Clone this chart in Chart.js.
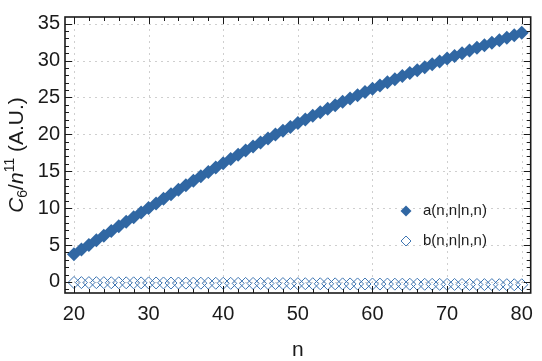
<!DOCTYPE html>
<html>
<head>
<meta charset="utf-8">
<script src="https://cdn.jsdelivr.net/npm/chart.js@4.4.0/dist/chart.umd.min.js"></script>
<style>
  html, body { margin: 0; padding: 0; background: #ffffff; }
  #wrap { width: 542px; height: 361px; }
</style>
</head>
<body>
<div id="wrap"><canvas id="c6Chart" width="542" height="361"></canvas></div>
<script>
// n values (x axis)
const nValues = [
  20, 21, 22, 23, 24, 25, 26, 27, 28, 29,
  30, 31, 32, 33, 34, 35, 36, 37, 38, 39,
  40, 41, 42, 43, 44, 45, 46, 47, 48, 49,
  50, 51, 52, 53, 54, 55, 56, 57, 58, 59,
  60, 61, 62, 63, 64, 65, 66, 67, 68, 69,
  70, 71, 72, 73, 74, 75, 76, 77, 78, 79,
  80
];

// a(n,n|n,n)
const aValues = [
  3.75, 4.38, 5.01, 5.64, 6.27, 6.90, 7.53, 8.16, 8.78, 9.40,
  10.02, 10.64, 11.26, 11.88, 12.49, 13.10, 13.71, 14.31, 14.91, 15.50,
  16.09, 16.67, 17.24, 17.80, 18.36, 18.91, 19.45, 19.98, 20.50, 21.01,
  21.52, 22.02, 22.51, 22.99, 23.47, 23.94, 24.40, 24.86, 25.31, 25.75,
  26.19, 26.62, 27.05, 27.47, 27.89, 28.30, 28.70, 29.10, 29.49, 29.88,
  30.26, 30.63, 31.00, 31.36, 31.72, 32.07, 32.42, 32.76, 33.10, 33.43,
  33.76
];

// b(n,n|n,n)
const bValues = [
  -0.08, -0.09, -0.09, -0.10, -0.10, -0.11, -0.11, -0.12, -0.12, -0.13,
  -0.13, -0.14, -0.14, -0.15, -0.15, -0.16, -0.16, -0.17, -0.17, -0.18,
  -0.18, -0.19, -0.19, -0.20, -0.20, -0.21, -0.21, -0.22, -0.22, -0.23,
  -0.23, -0.24, -0.24, -0.25, -0.25, -0.26, -0.26, -0.27, -0.27, -0.28,
  -0.28, -0.29, -0.29, -0.30, -0.30, -0.31, -0.31, -0.32, -0.32, -0.33,
  -0.33, -0.34, -0.34, -0.35, -0.35, -0.36, -0.36, -0.37, -0.37, -0.38,
  -0.38
];

const seriesLabels = ["a(n,n|n,n)", "b(n,n|n,n)"];
const xTicks = [20, 30, 40, 50, 60, 70, 80];
const yTicks = [0, 5, 10, 15, 20, 25, 30, 35];

const blue = "#3067a3";
const blueLight = "#3f76b3";
const fontFamily = "'Liberation Sans', Arial, sans-serif";

// Mathematica-like frame: dotted grid, black box, inward ticks on all sides
const framePlugin = {
  id: "frame",
  beforeDatasetsDraw(chart) {
    const { ctx, chartArea: a, scales: { x, y } } = chart;
    ctx.save();
    ctx.strokeStyle = "#cfcfcf";
    ctx.lineWidth = 1;
    ctx.setLineDash([2, 4]);
    xTicks.forEach((v) => {
      const px = Math.round(x.getPixelForValue(v)) + 0.5;
      ctx.beginPath();
      ctx.moveTo(px, a.top);
      ctx.lineTo(px, a.bottom);
      ctx.stroke();
    });
    yTicks.forEach((v) => {
      const py = Math.round(y.getPixelForValue(v)) + 0.5;
      ctx.beginPath();
      ctx.moveTo(a.left, py);
      ctx.lineTo(a.right, py);
      ctx.stroke();
    });
    ctx.restore();
  },
  afterDatasetsDraw(chart) {
    const { ctx, chartArea: a, scales: { x, y } } = chart;
    ctx.save();
    ctx.strokeStyle = "#1a1a1a";
    ctx.lineWidth = 1;
    // x ticks: major every 10, minor every 2
    for (let v = 20; v <= 80; v += 2) {
      const px = Math.round(x.getPixelForValue(v)) + 0.5;
      const len = v % 10 === 0 ? 7 : 4;
      ctx.beginPath();
      ctx.moveTo(px, a.bottom);
      ctx.lineTo(px, a.bottom - len);
      ctx.moveTo(px, a.top);
      ctx.lineTo(px, a.top + len);
      ctx.stroke();
    }
    // y ticks: major every 5, minor every 1
    for (let v = -1; v <= 35; v += 1) {
      const py = Math.round(y.getPixelForValue(v)) + 0.5;
      const len = v % 5 === 0 ? 7 : 4;
      ctx.beginPath();
      ctx.moveTo(a.left, py);
      ctx.lineTo(a.left + len, py);
      ctx.moveTo(a.right, py);
      ctx.lineTo(a.right - len, py);
      ctx.stroke();
    }
    ctx.lineWidth = 1.6;
    ctx.strokeRect(a.left, a.top, a.right - a.left, a.bottom - a.top);
    ctx.restore();
  },
  afterDraw(chart) {
    const { ctx, chartArea: a } = chart;
    ctx.save();
    ctx.fillStyle = "#1a1a1a";

    // y axis title: C_6/n^11 (A.U.)
    const segs = [
      { t: "C", f: "italic 21px " + fontFamily, dy: 0 },
      { t: "6", f: "14px " + fontFamily, dy: 4 },
      { t: "/", f: "21px " + fontFamily, dy: 0 },
      { t: "n", f: "italic 21px " + fontFamily, dy: 0 },
      { t: "11", f: "14px " + fontFamily, dy: -9 },
      { t: " (A.U.)", f: "21px " + fontFamily, dy: 0 },
    ];
    let total = 0;
    segs.forEach((s) => {
      ctx.font = s.f;
      s.w = ctx.measureText(s.t).width;
      total += s.w;
    });
    ctx.translate(15, (a.top + a.bottom) / 2);
    ctx.rotate(-Math.PI / 2);
    ctx.textBaseline = "alphabetic";
    let u = -total / 2;
    segs.forEach((s) => {
      ctx.font = s.f;
      ctx.fillText(s.t, u, 7.5 + s.dy);
      u += s.w;
    });
    ctx.setTransform(1, 0, 0, 1, 0, 0);

    // legend inside the plot
    const items = [
      { label: seriesLabels[0], fill: blue, stroke: blue, r: 5.5 },
      { label: seriesLabels[1], fill: null, stroke: blueLight, r: 5 },
    ];
    ctx.font = "15px " + fontFamily;
    ctx.textBaseline = "middle";
    items.forEach((it, i) => {
      const cx = 406;
      const cy = 211 + i * 30;
      ctx.beginPath();
      ctx.moveTo(cx, cy - it.r);
      ctx.lineTo(cx + it.r, cy);
      ctx.lineTo(cx, cy + it.r);
      ctx.lineTo(cx - it.r, cy);
      ctx.closePath();
      if (it.fill) {
        ctx.fillStyle = it.fill;
        ctx.fill();
      } else {
        ctx.strokeStyle = it.stroke;
        ctx.lineWidth = 1;
        ctx.stroke();
      }
      ctx.fillStyle = "#1a1a1a";
      ctx.fillText(it.label, 423, cy);
    });
    ctx.restore();
  },
};

const ctx = document.getElementById("c6Chart");

const config = {
  type: "scatter",
  data: {
    datasets: [
      {
        label: seriesLabels[0],
        data: nValues.map((n, i) => ({ x: n, y: aValues[i] })),
        pointStyle: "rectRot",
        pointRadius: 7,
        backgroundColor: blue,
        borderColor: blue,
        borderWidth: 0,
      },
      {
        label: seriesLabels[1],
        data: nValues.map((n, i) => ({ x: n, y: bValues[i] })),
        pointStyle: "rectRot",
        pointRadius: 6,
        backgroundColor: "rgba(0,0,0,0)",
        borderColor: blueLight,
        borderWidth: 1,
      },
    ],
  },
  options: {
    responsive: false,
    devicePixelRatio: 1,
    animation: false,
    layout: { padding: { left: 0, top: 5, right: 5, bottom: 0 } },
    plugins: {
      legend: { display: false },
      tooltip: { enabled: false },
    },
    scales: {
      x: {
        type: "linear",
        min: 18.8,
        max: 81.2,
        grid: { display: false, drawTicks: false },
        border: { display: false },
        afterBuildTicks: (scale) => {
          scale.ticks = xTicks.map((v) => ({ value: v }));
        },
        afterFit: (scale) => {
          scale.height = 68;
        },
        ticks: {
          padding: 9,
          color: "#1a1a1a",
          font: { size: 20, family: fontFamily },
        },
        title: {
          display: true,
          text: "n",
          color: "#1a1a1a",
          font: { size: 21, family: fontFamily, lineHeight: 1 },
          padding: { top: 0, bottom: 0 },
        },
      },
      y: {
        type: "linear",
        min: -1.5,
        max: 35.9,
        grid: { display: false, drawTicks: false },
        border: { display: false },
        afterBuildTicks: (scale) => {
          scale.ticks = yTicks.map((v) => ({ value: v }));
        },
        afterFit: (scale) => {
          scale.width = 65;
        },
        ticks: {
          padding: 5,
          color: "#1a1a1a",
          font: { size: 20, family: fontFamily },
        },
      },
    },
  },
  plugins: [framePlugin],
};

new Chart(ctx, config);
</script>
</body>
</html>
